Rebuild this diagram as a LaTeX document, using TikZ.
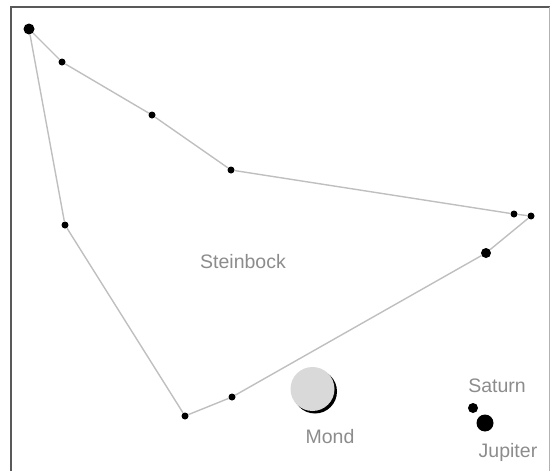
\documentclass[tikz,border=0pt]{standalone}
\usepackage{fontspec}
\setmainfont{Liberation Sans}
\begin{document}
\begin{tikzpicture}[x=1pt,y=-1pt,
  star/.style={circle,fill=black,inner sep=0pt,minimum size=#1},
  star/.default=7pt,
  edge/.style={draw=black!25,line width=1.4pt},
  lbl/.style={text=black!45,font=\fontsize{19.5}{22}\selectfont,inner sep=0pt}]
\useasboundingbox (0,0) rectangle (550,471);
% frame
\draw[black!65,line width=2pt] (10,7) -- (550,7);
\draw[black!65,line width=2pt] (11,6) -- (11,471);
\draw[black!30,line width=1pt] (549,7) -- (549,471);
% constellation stars
\node[star=11pt] (a) at (29,29) {};
\node[star] (b) at (62,62) {};
\node[star] (c) at (152,115) {};
\node[star] (d) at (231,170) {};
\node[star] (e) at (514,214) {};
\node[star] (f) at (531,216) {};
\node[star=10pt] (g) at (486,253) {};
\node[star] (h) at (232,397) {};
\node[star] (i) at (185,416) {};
\node[star] (j) at (65,225) {};
% outline
\draw[edge] (a) -- (b) -- (c) -- (d) -- (e) -- (f) -- (g) -- (h) -- (i) -- (j) -- (a);
\node[lbl] (name) at (243,262) {Steinbock};
% moon with dark crescent
\fill[black] (315,391.5) circle (22pt);
\node[circle,fill=black!15,inner sep=0pt,minimum size=44pt] (moon) at (312.5,389) {};
\node[lbl] (mondlbl) at (330,437) {Mond};
% planets
\node[star=10pt] (saturn) at (473,408) {};
\node[star=17pt] (jupiter) at (485,423) {};
\node[lbl] (saturnlbl) at (497,386) {Saturn};
\node[lbl] (jupiterlbl) at (508,452) {Jupiter};
\end{tikzpicture}
\end{document}
